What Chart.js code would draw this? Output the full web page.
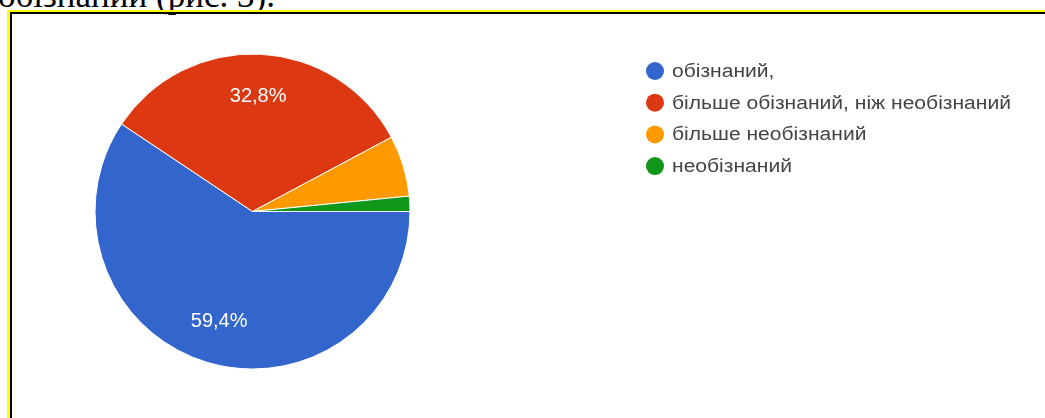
<!DOCTYPE html>
<html lang="uk">
  <head>
    <meta charset="UTF-8" />
    <title>Обізнаність</title>
    <script src="https://cdn.jsdelivr.net/npm/chart.js@4.4.1/dist/chart.umd.min.js"></script>
    <style>
      html, body {
        margin: 0;
        padding: 0;
        background: #fff;
        overflow: hidden;
      }
      .page {
        position: relative;
        width: 1045px;
        height: 418px;
        overflow: hidden;
      }
      .caption {
        position: absolute;
        left: -2px;
        top: -22px;
        font-family: 'Liberation Serif', 'Times New Roman', serif;
        font-size: 35px;
        line-height: 35px;
        color: #000;
        white-space: nowrap;
      }
      .frame {
        position: absolute;
        left: 7px;
        top: 10px;
        width: 1100px;
        height: 500px;
        border-left: 3px solid #ffff00;
        border-top: 2px solid #ffff00;
      }
      .frame-inner {
        width: 100%;
        height: 100%;
        border-left: 2px solid #000;
        border-top: 2px solid #000;
      }
      #pie {
        position: absolute;
        left: 0;
        top: 0;
      }
    </style>
  </head>
  <body>
    <div class="page">
      <div class="caption">обізнаний (рис. 3).</div>
      <div class="frame"><div class="frame-inner"></div></div>
      <canvas id="pie" width="1045" height="418"></canvas>
    </div>

    <script>
      // Відповіді на питання (кількість респондентів)
      const labels = [
        'обізнаний,',
        'більше обізнаний, ніж необізнаний',
        'більше необізнаний',
        'необізнаний'
      ]
      const counts = [38, 21, 4, 1]
      const colors = ['#3366cc', '#dc3912', '#ff9900', '#109618']

      const total = counts.reduce((a, b) => a + b, 0)

      function formatPercent(v) {
        return ((v / total) * 100).toFixed(1).replace('.', ',') + '%'
      }

      // Підписи відсотків всередині великих секторів
      const sliceLabels = {
        id: 'sliceLabels',
        afterDatasetsDraw(chart) {
          const ctx = chart.ctx
          const meta = chart.getDatasetMeta(0)
          ctx.save()
          ctx.font = '20px "Liberation Sans", Arial, sans-serif'
          ctx.fillStyle = '#fff'
          ctx.textAlign = 'center'
          ctx.textBaseline = 'middle'
          meta.data.forEach((arc, i) => {
            const value = counts[i]
            if (value / total < 0.1) return
            const mid = (arc.startAngle + arc.endAngle) / 2
            const r = arc.outerRadius * 0.73
            ctx.fillText(
              formatPercent(value),
              arc.x + Math.cos(mid) * r,
              arc.y + Math.sin(mid) * r
            )
          })
          ctx.restore()
        }
      }

      // Легенда праворуч (текст трохи розтягнутий по ширині)
      const sideLegend = {
        id: 'sideLegend',
        afterDraw(chart) {
          const ctx = chart.ctx
          const x = 655
          const y0 = 71
          const step = 31.7
          const stretch = 1.17
          ctx.save()
          ctx.font = '18px "Liberation Sans", Arial, sans-serif'
          ctx.textAlign = 'left'
          ctx.textBaseline = 'middle'
          chart.data.labels.forEach((label, i) => {
            const y = y0 + i * step
            ctx.beginPath()
            ctx.arc(x, y, 9, 0, Math.PI * 2)
            ctx.fillStyle = colors[i]
            ctx.fill()
            ctx.save()
            ctx.translate(x + 17, y + 1)
            ctx.scale(stretch, 1)
            ctx.fillStyle = '#444'
            ctx.fillText(label, 0, 0)
            ctx.restore()
          })
          ctx.restore()
        }
      }

      new Chart(document.getElementById('pie').getContext('2d'), {
        type: 'pie',
        data: {
          labels: labels,
          datasets: [
            {
              data: counts,
              backgroundColor: colors,
              borderColor: '#fff',
              borderWidth: 1,
              radius: 157.5
            }
          ]
        },
        options: {
          responsive: false,
          animation: false,
          rotation: 90,
          layout: {
            padding: { left: 95, top: 54, right: 635, bottom: 49 }
          },
          plugins: {
            legend: { display: false },
            tooltip: { enabled: false }
          }
        },
        plugins: [sliceLabels, sideLegend]
      })
    </script>
  </body>
</html>
